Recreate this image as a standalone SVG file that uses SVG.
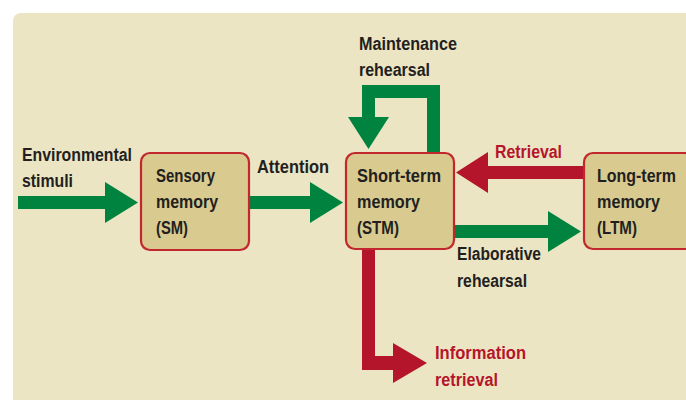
<svg xmlns="http://www.w3.org/2000/svg" width="686" height="400" viewBox="0 0 686 400">
  <style>
    .bg { fill: #ece5c4; }
    .box { fill: #d9ca8f; stroke: #c1272d; stroke-width: 2.2; }
    .t { font-family: "Liberation Sans", "DejaVu Sans Condensed", sans-serif; font-weight: bold; font-size: 18px; fill: #231f20; }
    .r { fill: #b5152b; }
    .g { fill: #00833e; }
    .red { fill: #b5152b; }
  </style>
  <rect x="0" y="0" width="686" height="400" fill="#ffffff"/>
  <rect class="bg" x="13" y="13" width="700" height="420" rx="8"/>

  <g id="connectors">
    <path class="g" d="M18,196 H105 V182 L138,202.5 L105,223 V209 H18 Z"/>
    <path class="g" d="M249,196 H310 V182 L343,202.5 L310,223 V209 H249 Z"/>
    <path class="g" d="M440,153 V85 H362 V117 H348 L368.5,149 L389,117 H375 V98 H427 V153 Z"/>
    <path class="r" d="M584,166 H488 V152 L456,172.5 L488,193 V179 H584 Z"/>
    <path class="g" d="M454,225 H548 V211 L581,231.5 L548,252 V238 H454 Z"/>
    <path class="r" d="M362,249 V370 H393 V383 L427,363 L393,343 V356 H375 V249 Z"/>
  </g>

  <g id="labels">
    <text class="t" x="22" y="161" textLength="110" lengthAdjust="spacingAndGlyphs">Environmental</text>
    <text class="t" x="22" y="187" textLength="51" lengthAdjust="spacingAndGlyphs">stimuli</text>
    <text class="t" x="257" y="173" textLength="72" lengthAdjust="spacingAndGlyphs">Attention</text>
    <text class="t" x="359" y="50" textLength="98" lengthAdjust="spacingAndGlyphs">Maintenance</text>
    <text class="t" x="359" y="76" textLength="71" lengthAdjust="spacingAndGlyphs">rehearsal</text>
    <text class="t red" x="495" y="158" textLength="67" lengthAdjust="spacingAndGlyphs">Retrieval</text>
    <text class="t" x="457" y="260" textLength="84" lengthAdjust="spacingAndGlyphs">Elaborative</text>
    <text class="t" x="457" y="287" textLength="70" lengthAdjust="spacingAndGlyphs">rehearsal</text>
    <text class="t red" x="435" y="359" textLength="91" lengthAdjust="spacingAndGlyphs">Information</text>
    <text class="t red" x="435" y="386" textLength="63" lengthAdjust="spacingAndGlyphs">retrieval</text>
  </g>

  <g id="sm">
    <rect class="box" x="141" y="153" width="108" height="97" rx="9"/>
    <text class="t" x="156" y="182" textLength="59" lengthAdjust="spacingAndGlyphs">Sensory</text>
    <text class="t" x="156" y="208" textLength="62" lengthAdjust="spacingAndGlyphs">memory</text>
    <text class="t" x="156" y="234" textLength="32" lengthAdjust="spacingAndGlyphs">(SM)</text>
  </g>

  <g id="stm">
    <rect class="box" x="346" y="153" width="108" height="96" rx="9"/>
    <text class="t" x="357" y="182" textLength="84" lengthAdjust="spacingAndGlyphs">Short-term</text>
    <text class="t" x="357" y="208" textLength="63" lengthAdjust="spacingAndGlyphs">memory</text>
    <text class="t" x="357" y="234" textLength="42" lengthAdjust="spacingAndGlyphs">(STM)</text>
  </g>

  <g id="ltm">
    <rect class="box" x="584" y="153" width="110" height="96" rx="9"/>
    <text class="t" x="597" y="182" textLength="79" lengthAdjust="spacingAndGlyphs">Long-term</text>
    <text class="t" x="597" y="208" textLength="63" lengthAdjust="spacingAndGlyphs">memory</text>
    <text class="t" x="597" y="234" textLength="40" lengthAdjust="spacingAndGlyphs">(LTM)</text>
  </g>
</svg>
